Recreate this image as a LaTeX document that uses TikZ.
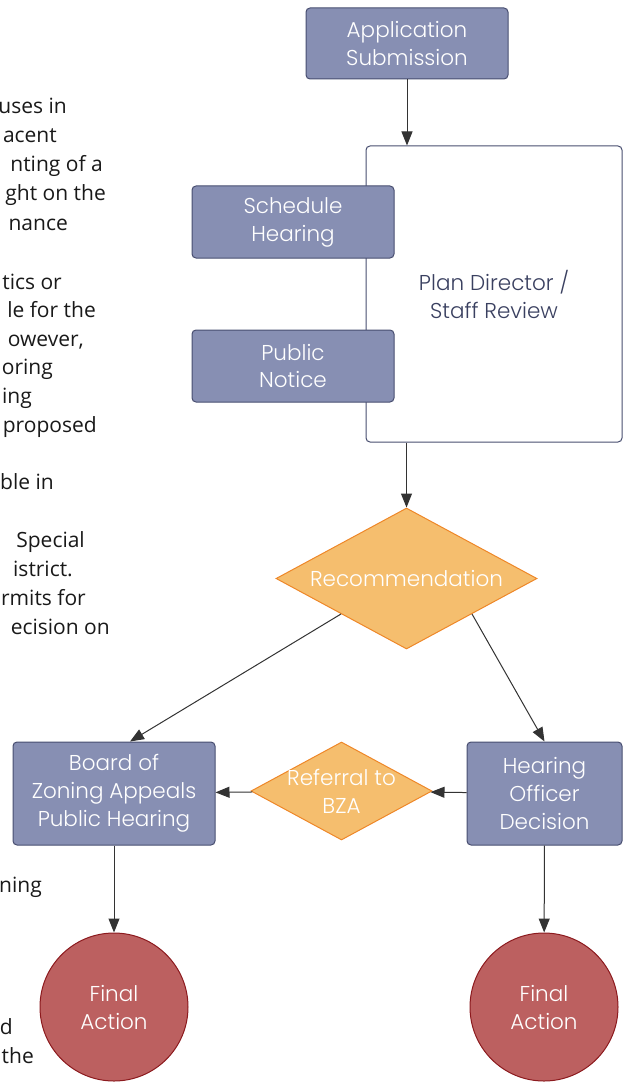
\documentclass[tikz,border=0pt]{standalone}
\usepackage{fontspec}
\setmainfont{Poppins}[UprightFont=* Light]
\newfontfamily\notesfont{Open Sans}
\usetikzlibrary{arrows.meta,shapes.geometric,calc}
\definecolor{boxfill}{RGB}{135,143,179}
\definecolor{boxline}{RGB}{72,78,112}
\definecolor{plantext}{RGB}{58,64,96}
\definecolor{decfill}{RGB}{245,190,110}
\definecolor{decline}{RGB}{238,135,40}
\definecolor{endfill}{RGB}{188,96,96}
\definecolor{endline}{RGB}{140,26,30}
\definecolor{flow}{RGB}{51,51,51}
\definecolor{notes}{RGB}{25,25,25}

\begin{document}
\begin{tikzpicture}[x=1pt,y=-1pt,
    label font/.style={font=\fontsize{21.5}{28}\selectfont},
    stepbox/.style={label font,draw=boxline,fill=boxfill,text=white,align=center,
      rounded corners=4pt,line width=1pt,inner sep=0pt,minimum width=202pt,minimum height=72pt},
    reviewbox/.style={label font,draw=boxline,fill=white,text=plantext,align=center,
      rounded corners=4pt,line width=1pt,inner sep=0pt,minimum width=256pt,minimum height=296pt},
    decision/.style={label font,diamond,aspect=1.85,draw=decline,fill=decfill,text=white,align=center,
      line width=1pt,inner sep=0pt},
    finish/.style={label font,circle,draw=endline,fill=endfill,text=white,align=center,
      line width=1pt,inner sep=0pt,minimum size=148pt},
    flowline/.style={draw=flow,line width=1pt,-{Triangle[length=14pt,width=11pt]}},
    note/.style={font=\notesfont\fontsize{21}{28}\selectfont,text=notes,anchor=base east,inner sep=0pt}]
  \useasboundingbox (0,0) rectangle (629,1083);
  \clip (0,0) rectangle (629,1083);

  % cut-off notes on the left
  \foreach \xr/\yb/\t [count=\i] in {67/114/uses in, 57/143/acent, 103/172/nting of a,
      106/201/ght on the, 68/230/nance, 62/289/tics or, 96/317/le for the,
      84/346/{owever,}, 53/374/oring, 32/403/ing, 97/432/proposed, 54/489/ble in,
      85/547/Special, 73/576/istrict., 86/605/rmits for, 110/634/ecision on,
      42/892/ning, 13/1034/d, 34/1063/the}
    \node[note] (note\i) at (\xr,\yb) {\t};

  % review stage
  \node[stepbox,minimum height=71pt] (submit) at (407,43.5) {Application\\Submission};
  \node[reviewbox] (review) at (494,294) {Plan Director /\\Staff Review};
  \node[stepbox] (schedule) at (293,222) {Schedule\\Hearing};
  \node[stepbox] (notice) at (293,366) {Public\\Notice};

  % decisions
  \node[decision,minimum width=261pt,minimum height=141pt] (recommend) at (406.5,578.5) {Recommendation};
  \node[stepbox,minimum height=103pt] (bza) at (114,793.5) {Board of\\Zoning Appeals\\Public Hearing};
  \node[stepbox,minimum width=155pt,minimum height=103pt] (officer) at (544.5,793.5) {Hearing\\Officer\\Decision};
  \node[decision,inner sep=-12pt,minimum width=181pt,minimum height=98pt] (referral) at (341.5,791) {Referral to\\BZA};

  \node[finish] (finalA) at (114,1007) {Final\\Action};
  \node[finish] (finalB) at (544,1007) {Final\\Action};

  \draw[flowline] (submit) -- (submit |- review.north);
  \draw[flowline] (review.south -| recommend) -- (recommend);
  \draw[flowline] ($(recommend.south)!0.5!(recommend.west)$) -- ([xshift=16pt]bza.north);
  \draw[flowline] ($(recommend.south)!0.5!(recommend.east)$) -- (officer.north);
  \draw[flowline] (officer) -- (referral);
  \draw[flowline] (referral) -- (bza);
  \draw[flowline] (bza) -- (finalA);
  \draw[flowline] (officer) -- (finalB);
\end{tikzpicture}
\end{document}
